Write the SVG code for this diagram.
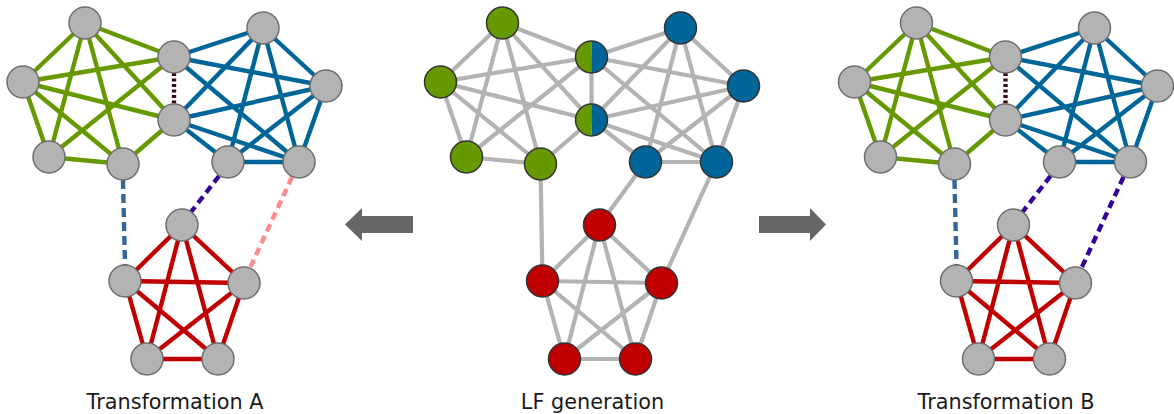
<svg xmlns="http://www.w3.org/2000/svg" width="1174" height="414" viewBox="0 0 1174 414">
<style>
.e{stroke-width:4.4;fill:none}
.gr{stroke:#b3b3b3;stroke-width:4.2}
.g{stroke:#669900}
.b{stroke:#006699}
.r{stroke:#c00000}
.n{fill:#b3b3b3;stroke:#6e6e6e;stroke-width:1.5}
.nm{stroke:#333;stroke-width:1.5}
.mar{stroke:#3d0a14;stroke-width:4.4;stroke-dasharray:3 2.5}
.sb{stroke:#336699;stroke-width:4.4;stroke-dasharray:9 5}
.pu{stroke:#330099;stroke-width:4.4;stroke-dasharray:8 5}
.pk{stroke:#ff8a8a;stroke-width:4.4;stroke-dasharray:8 5}
.lbl{font-family:"DejaVu Sans",sans-serif;font-size:20.8px;fill:#1a1a1a;text-anchor:middle}
.arr{fill:#666}
</style>

<!-- Panel A -->
<g id="panelA">
<g id="connectorsA">
<g class="e g">
<line x1="85" y1="23" x2="23" y2="82"/><line x1="85" y1="23" x2="49" y2="157"/><line x1="85" y1="23" x2="123" y2="164"/><line x1="85" y1="23" x2="174" y2="57"/><line x1="85" y1="23" x2="174" y2="120"/>
<line x1="23" y1="82" x2="49" y2="157"/><line x1="23" y1="82" x2="123" y2="164"/><line x1="23" y1="82" x2="174" y2="57"/><line x1="23" y1="82" x2="174" y2="120"/>
<line x1="49" y1="157" x2="123" y2="164"/><line x1="49" y1="157" x2="174" y2="57"/><line x1="123" y1="164" x2="174" y2="120"/>
</g>
<g class="e b">
<line x1="263" y1="28" x2="326" y2="86"/><line x1="263" y1="28" x2="228" y2="162"/><line x1="263" y1="28" x2="299" y2="162"/><line x1="263" y1="28" x2="174" y2="57"/><line x1="263" y1="28" x2="174" y2="120"/>
<line x1="326" y1="86" x2="228" y2="162"/><line x1="326" y1="86" x2="299" y2="162"/><line x1="326" y1="86" x2="174" y2="57"/><line x1="326" y1="86" x2="174" y2="120"/>
<line x1="228" y1="162" x2="299" y2="162"/><line x1="228" y1="162" x2="174" y2="120"/><line x1="299" y1="162" x2="174" y2="57"/><line x1="299" y1="162" x2="174" y2="120"/>
</g>
<g class="e r">
<line x1="182" y1="225" x2="125" y2="281"/><line x1="182" y1="225" x2="244" y2="283"/><line x1="182" y1="225" x2="147" y2="359"/><line x1="182" y1="225" x2="218" y2="359"/>
<line x1="125" y1="281" x2="244" y2="283"/><line x1="125" y1="281" x2="147" y2="359"/><line x1="125" y1="281" x2="218" y2="359"/>
<line x1="244" y1="283" x2="147" y2="359"/><line x1="244" y1="283" x2="218" y2="359"/><line x1="147" y1="359" x2="218" y2="359"/>
</g>
<line class="mar" x1="174" y1="73" x2="174" y2="104"/>
<line class="sb" x1="123" y1="180" x2="125" y2="265"/>
<line class="pu" x1="219" y1="176" x2="191" y2="212"/>
<line class="pk" x1="292" y1="177" x2="250" y2="268"/>
</g>
<g id="A-G1"><circle class="n" cx="85" cy="23" r="16"/></g>
<g id="A-G2"><circle class="n" cx="23" cy="82" r="16"/></g>
<g id="A-G3"><circle class="n" cx="49" cy="157" r="16"/></g>
<g id="A-G4"><circle class="n" cx="123" cy="164" r="16"/></g>
<g id="A-M1"><circle class="n" cx="174" cy="57" r="16"/></g>
<g id="A-M2"><circle class="n" cx="174" cy="120" r="16"/></g>
<g id="A-B1"><circle class="n" cx="263" cy="28" r="16"/></g>
<g id="A-B2"><circle class="n" cx="326" cy="86" r="16"/></g>
<g id="A-B3"><circle class="n" cx="228" cy="162" r="16"/></g>
<g id="A-B4"><circle class="n" cx="299" cy="162" r="16"/></g>
<g id="A-R1"><circle class="n" cx="182" cy="225" r="16"/></g>
<g id="A-R2"><circle class="n" cx="125" cy="281" r="16"/></g>
<g id="A-R3"><circle class="n" cx="244" cy="283" r="16"/></g>
<g id="A-R4"><circle class="n" cx="147" cy="359" r="16"/></g>
<g id="A-R5"><circle class="n" cx="218" cy="359" r="16"/></g>
</g>

<!-- Middle panel -->
<g id="panelLF" transform="translate(417.5,0)">
<g id="connectorsLF" class="gr" fill="none">
<line x1="85" y1="23" x2="23" y2="82"/><line x1="85" y1="23" x2="49" y2="157"/><line x1="85" y1="23" x2="123" y2="164"/><line x1="85" y1="23" x2="174" y2="57"/><line x1="85" y1="23" x2="174" y2="120"/>
<line x1="23" y1="82" x2="49" y2="157"/><line x1="23" y1="82" x2="123" y2="164"/><line x1="23" y1="82" x2="174" y2="57"/><line x1="23" y1="82" x2="174" y2="120"/>
<line x1="49" y1="157" x2="123" y2="164"/><line x1="49" y1="157" x2="174" y2="57"/><line x1="123" y1="164" x2="174" y2="120"/>
<line x1="263" y1="28" x2="326" y2="86"/><line x1="263" y1="28" x2="228" y2="162"/><line x1="263" y1="28" x2="299" y2="162"/><line x1="263" y1="28" x2="174" y2="57"/><line x1="263" y1="28" x2="174" y2="120"/>
<line x1="326" y1="86" x2="228" y2="162"/><line x1="326" y1="86" x2="299" y2="162"/><line x1="326" y1="86" x2="174" y2="57"/><line x1="326" y1="86" x2="174" y2="120"/>
<line x1="228" y1="162" x2="299" y2="162"/><line x1="228" y1="162" x2="174" y2="120"/><line x1="299" y1="162" x2="174" y2="57"/><line x1="299" y1="162" x2="174" y2="120"/>
<line x1="182" y1="225" x2="125" y2="281"/><line x1="182" y1="225" x2="244" y2="283"/><line x1="182" y1="225" x2="147" y2="359"/><line x1="182" y1="225" x2="218" y2="359"/>
<line x1="125" y1="281" x2="244" y2="283"/><line x1="125" y1="281" x2="147" y2="359"/><line x1="125" y1="281" x2="218" y2="359"/>
<line x1="244" y1="283" x2="147" y2="359"/><line x1="244" y1="283" x2="218" y2="359"/><line x1="147" y1="359" x2="218" y2="359"/>
<line x1="174" y1="57" x2="174" y2="120"/>
<line x1="123" y1="164" x2="125" y2="281"/>
<line x1="228" y1="162" x2="182" y2="225"/>
<line x1="299" y1="162" x2="244" y2="283"/>
</g>
<g id="LF-G1"><circle class="nm" fill="#669900" cx="85" cy="23" r="16"/></g>
<g id="LF-G2"><circle class="nm" fill="#669900" cx="23" cy="82" r="16"/></g>
<g id="LF-G3"><circle class="nm" fill="#669900" cx="49" cy="157" r="16"/></g>
<g id="LF-G4"><circle class="nm" fill="#669900" cx="123" cy="164" r="16"/></g>
<g id="LF-M1">
<path fill="#669900" d="M174 41 A16 16 0 0 0 174 73 Z"/><path fill="#006699" d="M174 41 A16 16 0 0 1 174 73 Z"/>
<circle class="nm" fill="none" cx="174" cy="57" r="16"/></g>
<g id="LF-M2">
<path fill="#669900" d="M174 104 A16 16 0 0 0 174 136 Z"/><path fill="#006699" d="M174 104 A16 16 0 0 1 174 136 Z"/>
<circle class="nm" fill="none" cx="174" cy="120" r="16"/></g>
<g id="LF-B1"><circle class="nm" fill="#006699" cx="263" cy="28" r="16"/></g>
<g id="LF-B2"><circle class="nm" fill="#006699" cx="326" cy="86" r="16"/></g>
<g id="LF-B3"><circle class="nm" fill="#006699" cx="228" cy="162" r="16"/></g>
<g id="LF-B4"><circle class="nm" fill="#006699" cx="299" cy="162" r="16"/></g>
<g id="LF-R1"><circle class="nm" fill="#c00000" cx="182" cy="225" r="16"/></g>
<g id="LF-R2"><circle class="nm" fill="#c00000" cx="125" cy="281" r="16"/></g>
<g id="LF-R3"><circle class="nm" fill="#c00000" cx="244" cy="283" r="16"/></g>
<g id="LF-R4"><circle class="nm" fill="#c00000" cx="147" cy="359" r="16"/></g>
<g id="LF-R5"><circle class="nm" fill="#c00000" cx="218" cy="359" r="16"/></g>
</g>

<!-- Panel B -->
<g id="panelB" transform="translate(831.5,0)">
<g id="connectorsB">
<g class="e g">
<line x1="85" y1="23" x2="23" y2="82"/><line x1="85" y1="23" x2="49" y2="157"/><line x1="85" y1="23" x2="123" y2="164"/><line x1="85" y1="23" x2="174" y2="57"/><line x1="85" y1="23" x2="174" y2="120"/>
<line x1="23" y1="82" x2="49" y2="157"/><line x1="23" y1="82" x2="123" y2="164"/><line x1="23" y1="82" x2="174" y2="57"/><line x1="23" y1="82" x2="174" y2="120"/>
<line x1="49" y1="157" x2="123" y2="164"/><line x1="49" y1="157" x2="174" y2="57"/><line x1="123" y1="164" x2="174" y2="120"/>
</g>
<g class="e b">
<line x1="263" y1="28" x2="326" y2="86"/><line x1="263" y1="28" x2="228" y2="162"/><line x1="263" y1="28" x2="299" y2="162"/><line x1="263" y1="28" x2="174" y2="57"/><line x1="263" y1="28" x2="174" y2="120"/>
<line x1="326" y1="86" x2="228" y2="162"/><line x1="326" y1="86" x2="299" y2="162"/><line x1="326" y1="86" x2="174" y2="57"/><line x1="326" y1="86" x2="174" y2="120"/>
<line x1="228" y1="162" x2="299" y2="162"/><line x1="228" y1="162" x2="174" y2="120"/><line x1="299" y1="162" x2="174" y2="57"/><line x1="299" y1="162" x2="174" y2="120"/>
</g>
<g class="e r">
<line x1="182" y1="225" x2="125" y2="281"/><line x1="182" y1="225" x2="244" y2="283"/><line x1="182" y1="225" x2="147" y2="359"/><line x1="182" y1="225" x2="218" y2="359"/>
<line x1="125" y1="281" x2="244" y2="283"/><line x1="125" y1="281" x2="147" y2="359"/><line x1="125" y1="281" x2="218" y2="359"/>
<line x1="244" y1="283" x2="147" y2="359"/><line x1="244" y1="283" x2="218" y2="359"/><line x1="147" y1="359" x2="218" y2="359"/>
</g>
<line class="mar" x1="174" y1="73" x2="174" y2="104"/>
<line class="sb" x1="123" y1="180" x2="125" y2="265"/>
<line class="pu" x1="219" y1="176" x2="191" y2="212"/>
<line class="pu" x1="292" y1="177" x2="250" y2="268"/>
</g>
<g id="B-G1"><circle class="n" cx="85" cy="23" r="16"/></g>
<g id="B-G2"><circle class="n" cx="23" cy="82" r="16"/></g>
<g id="B-G3"><circle class="n" cx="49" cy="157" r="16"/></g>
<g id="B-G4"><circle class="n" cx="123" cy="164" r="16"/></g>
<g id="B-M1"><circle class="n" cx="174" cy="57" r="16"/></g>
<g id="B-M2"><circle class="n" cx="174" cy="120" r="16"/></g>
<g id="B-B1"><circle class="n" cx="263" cy="28" r="16"/></g>
<g id="B-B2"><circle class="n" cx="326" cy="86" r="16"/></g>
<g id="B-B3"><circle class="n" cx="228" cy="162" r="16"/></g>
<g id="B-B4"><circle class="n" cx="299" cy="162" r="16"/></g>
<g id="B-R1"><circle class="n" cx="182" cy="225" r="16"/></g>
<g id="B-R2"><circle class="n" cx="125" cy="281" r="16"/></g>
<g id="B-R3"><circle class="n" cx="244" cy="283" r="16"/></g>
<g id="B-R4"><circle class="n" cx="147" cy="359" r="16"/></g>
<g id="B-R5"><circle class="n" cx="218" cy="359" r="16"/></g>
</g>

<!-- Arrows -->
<g id="arrows">
<polygon class="arr" points="345,224.5 362,208 362,216 413,216 413,233 362,233 362,241"/>
<polygon class="arr" points="826,224.5 810,208 810,216 759,216 759,233 810,233 810,241"/>
</g>

<!-- Labels -->
<text class="lbl" x="175" y="409">Transformation A</text>
<text class="lbl" x="592.5" y="409">LF generation</text>
<text class="lbl" x="1006" y="409">Transformation B</text>
</svg>
